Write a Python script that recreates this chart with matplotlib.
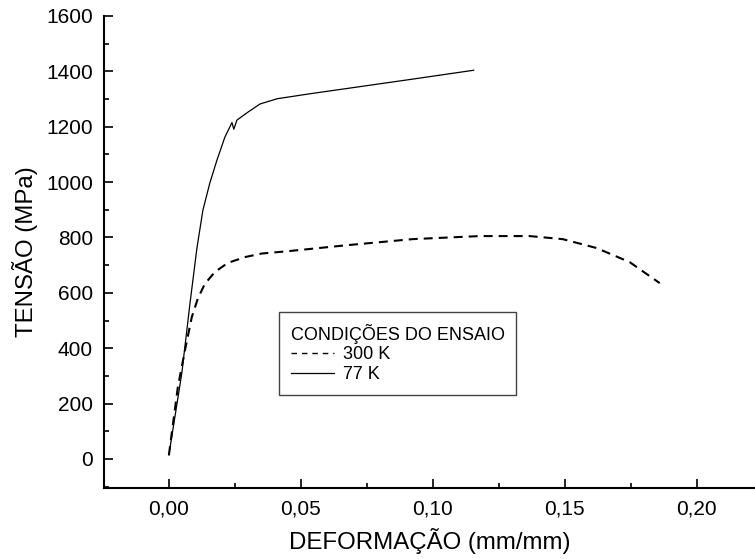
import matplotlib
matplotlib.use('Agg')
import matplotlib.pyplot as plt
from matplotlib.lines import Line2D
from matplotlib.ticker import MultipleLocator, FuncFormatter

plt.rcParams['font.family'] = ['Liberation Sans', 'DejaVu Sans']

# curva 77 K (linha cheia)
strain77 = [0.0, 0.0049, 0.008, 0.0106, 0.0129, 0.0155, 0.0182, 0.0212, 0.0239,
            0.0246, 0.0258, 0.030, 0.0345, 0.041, 0.0534, 0.0674, 0.0924, 0.1155]
stress77 = [14, 310, 562, 760, 899, 996, 1079, 1162, 1215,
            1191, 1224, 1253, 1282, 1301, 1319, 1338, 1372, 1404]

# curva 300 K (tracejada)
strain300 = [0.0, 0.0034, 0.0061, 0.0087, 0.011, 0.0136, 0.0174, 0.0223, 0.0288,
             0.0352, 0.0447, 0.0674, 0.0924, 0.1178, 0.1367, 0.1492, 0.162,
             0.1746, 0.186]
stress300 = [14, 260, 393, 513, 580, 632, 675, 708, 729,
             742, 750, 772, 794, 805, 805, 794, 762,
             711, 635]

xTicks = [0.0, 0.05, 0.10, 0.15, 0.20]
yTicks = [0, 200, 400, 600, 800, 1000, 1200, 1400, 1600]

fig = plt.figure(figsize=(7.55, 5.59), dpi=100)
ax = fig.add_axes([0.1377, 0.127, 0.8623, 0.8444])

ax.plot(strain300, stress300, color='black', linewidth=1.5, dashes=(4.3, 2.9))
ax.plot(strain77, stress77, color='black', linewidth=0.9)

ax.set_xlim(-0.0246, 0.2221)
ax.set_ylim(-105, 1600)
ax.set_xticks(xTicks)
ax.set_yticks(yTicks)
ax.xaxis.set_minor_locator(MultipleLocator(0.025))
ax.yaxis.set_minor_locator(MultipleLocator(100))
ax.xaxis.set_major_formatter(FuncFormatter(lambda v, p: ('%.2f' % v).replace('.', ',')))

for s in ['top', 'right']:
    ax.spines[s].set_visible(False)
for s in ['left', 'bottom']:
    ax.spines[s].set_linewidth(1.5)

ax.tick_params(which='major', direction='in', length=6.5, width=1.2,
               labelsize=15, pad=8)
ax.tick_params(which='minor', direction='in', length=3.6, width=1.2)

ax.set_xlabel('DEFORMAÇÃO (mm/mm)', fontsize=17.3, labelpad=7)
ax.set_ylabel('TENSÃO (MPa)', fontsize=17.3, labelpad=6)

handles = [Line2D([], [], color='black', linewidth=1.0, dashes=(4, 3.5)),
           Line2D([], [], color='black', linewidth=0.9)]
leg = ax.legend(handles, ['300 K', '77 K'], title='CONDIÇÕES DO ENSAIO',
                loc='upper left', bbox_to_anchor=(0.2688, 0.3729),
                borderaxespad=0, fontsize=13, title_fontsize=13,
                alignment='left', fancybox=False, framealpha=1,
                edgecolor='#444444', handlelength=2.4, handletextpad=0.5,
                labelspacing=0.15, borderpad=0.65)
leg.get_frame().set_linewidth(1.0)

fig.savefig('out.png', dpi=100)
